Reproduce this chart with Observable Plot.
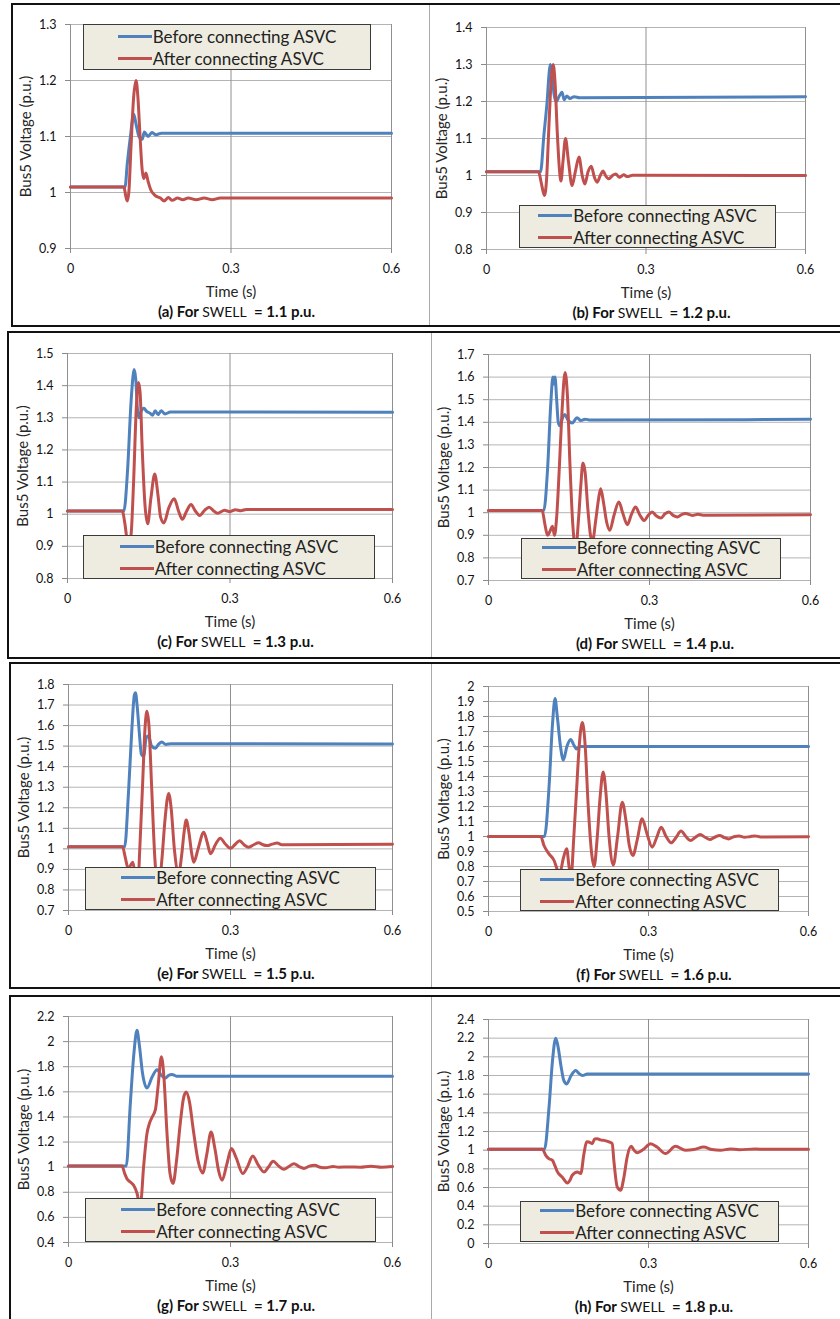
<!DOCTYPE html>
<html>
<head>
<meta charset="utf-8">
<script src="https://cdn.jsdelivr.net/npm/d3@7"></script>
<script src="https://cdn.jsdelivr.net/npm/@observablehq/plot@0.6"></script>
<style>
  html, body { margin: 0; padding: 0; background: #fff; }
  #page { position: relative; width: 840px; height: 1319px; overflow: hidden; background: #fff; font-family: Lato, "Open Sans", sans-serif; }
  .rowbox { position: absolute; box-sizing: border-box; border: 2px solid #111; border-right: none; }
  .divider { position: absolute; width: 1px; background: #a9a9a9; }
  .panel { position: absolute; }
  .panel svg { overflow: visible; }
  .legend { position: absolute; box-sizing: border-box; background: #EEECE1; border: 1px solid #3a3a3a; display: flex; flex-direction: column; justify-content: center; align-items: center; }
  .legend .items { display: flex; flex-direction: column; }
  .legend .item { display: flex; align-items: center; height: 22px; font-size: 17px; color: #222; white-space: nowrap; }
  .legend .swatch { width: 34px; height: 3px; margin-right: 1px; }
  .caption { position: absolute; transform: translate(-50%, -50%); white-space: nowrap; font-size: 15px; font-weight: 700; color: #111; }
  .caption .sw { font-weight: 400; font-size: 14px; }
</style>
</head>
<body>
<div id="page"></div>
<script>
// ---------- data ----------
const seriesNames = ["Before connecting ASVC", "After connecting ASVC"];
const captionLetters = ["a", "b", "c", "d", "e", "f", "g", "h"];
const swellLevels = ["1.1", "1.2", "1.3", "1.4", "1.5", "1.6", "1.7", "1.8"];
const xTicks = [0, 0.3, 0.6];

const ticksA = [0.9, 1, 1.1, 1.2, 1.3];
const ticksB = [0.8, 0.9, 1, 1.1, 1.2, 1.3, 1.4];
const ticksC = [0.8, 0.9, 1, 1.1, 1.2, 1.3, 1.4, 1.5];
const ticksD = [0.7, 0.8, 0.9, 1, 1.1, 1.2, 1.3, 1.4, 1.5, 1.6, 1.7];
const ticksE = [0.7, 0.8, 0.9, 1, 1.1, 1.2, 1.3, 1.4, 1.5, 1.6, 1.7, 1.8];
const ticksF = [0.5, 0.6, 0.7, 0.8, 0.9, 1, 1.1, 1.2, 1.3, 1.4, 1.5, 1.6, 1.7, 1.8, 1.9, 2];
const ticksG = [0.4, 0.6, 0.8, 1, 1.2, 1.4, 1.6, 1.8, 2, 2.2];
const ticksH = [0, 0.2, 0.4, 0.6, 0.8, 1, 1.2, 1.4, 1.6, 1.8, 2, 2.2, 2.4];

// [time (s), voltage (p.u.)]
const beforeA = [[0,1.01],[0.102,1.01],[0.106,1.05],[0.112,1.1],[0.118,1.14],[0.123,1.12],[0.128,1.1],[0.134,1.095],[0.138,1.108],[0.145,1.1],[0.152,1.107],[0.16,1.103],[0.17,1.106],[0.6,1.106]];
const afterA = [[0,1.01],[0.1,1.01],[0.103,0.995],[0.106,0.985],[0.109,1.0],[0.113,1.08],[0.118,1.17],[0.1225,1.2],[0.126,1.17],[0.13,1.1],[0.134,1.04],[0.137,1.025],[0.141,1.035],[0.145,1.02],[0.15,1.005],[0.158,0.995],[0.168,0.99],[0.175,0.985],[0.183,0.991],[0.19,0.986],[0.2,0.99],[0.21,0.987],[0.22,0.99],[0.235,0.987],[0.25,0.99],[0.265,0.987],[0.28,0.99],[0.6,0.99]];

const beforeB = [[0,1.01],[0.1016,1.01],[0.108,1.11],[0.114,1.2],[0.118,1.28],[0.12,1.3],[0.123,1.28],[0.127,1.22],[0.131,1.2],[0.137,1.215],[0.142,1.225],[0.146,1.205],[0.151,1.215],[0.157,1.208],[0.165,1.213],[0.175,1.21],[0.6,1.213]];
const afterB = [[0,1.01],[0.098,1.01],[0.103,0.98],[0.109,0.946],[0.113,0.99],[0.117,1.12],[0.121,1.24],[0.1254,1.3],[0.129,1.25],[0.133,1.12],[0.137,1.02],[0.14,0.985],[0.144,1.04],[0.1486,1.1],[0.154,1.04],[0.161,0.973],[0.167,1.01],[0.174,1.05],[0.18,1.0],[0.185,0.977],[0.191,1.01],[0.197,1.025],[0.203,0.995],[0.208,0.982],[0.214,1.0],[0.219,1.012],[0.225,0.997],[0.23,0.991],[0.237,1.0],[0.243,1.004],[0.25,0.995],[0.258,1.002],[0.265,0.997],[0.275,1.001],[0.6,1.0]];

const beforeC = [[0,1.01],[0.104,1.01],[0.111,1.14],[0.117,1.34],[0.121,1.43],[0.123,1.45],[0.126,1.42],[0.129,1.33],[0.132,1.3],[0.136,1.32],[0.141,1.33],[0.146,1.32],[0.152,1.315],[0.157,1.308],[0.162,1.322],[0.167,1.31],[0.173,1.322],[0.18,1.312],[0.19,1.318],[0.6,1.317]];
const afterC = [[0,1.01],[0.101,1.01],[0.106,0.97],[0.11,0.92],[0.114,0.9],[0.118,0.95],[0.122,1.1],[0.127,1.33],[0.131,1.41],[0.134,1.38],[0.138,1.2],[0.143,1.03],[0.148,0.97],[0.154,1.05],[0.161,1.125],[0.167,1.06],[0.172,0.99],[0.178,0.973],[0.187,1.02],[0.197,1.048],[0.205,1.01],[0.212,0.984],[0.22,1.01],[0.228,1.03],[0.236,1.01],[0.244,0.996],[0.253,1.012],[0.2615,1.022],[0.27,1.01],[0.277,1.003],[0.29,1.012],[0.3,1.008],[0.31,1.014],[0.32,1.011],[0.33,1.015],[0.6,1.015]];

const beforeD = [[0,1.01],[0.103,1.01],[0.11,1.19],[0.116,1.48],[0.12,1.6],[0.122,1.57],[0.124,1.6],[0.127,1.5],[0.13,1.4],[0.133,1.385],[0.138,1.42],[0.142,1.435],[0.148,1.41],[0.156,1.397],[0.165,1.42],[0.172,1.408],[0.18,1.414],[0.19,1.41],[0.6,1.413]];
const afterD = [[0,1.01],[0.1,1.01],[0.105,0.95],[0.11,0.9],[0.115,0.92],[0.119,0.94],[0.123,0.9],[0.127,0.98],[0.132,1.2],[0.137,1.45],[0.1427,1.62],[0.147,1.52],[0.152,1.2],[0.157,0.95],[0.1625,0.84],[0.168,0.98],[0.172,1.12],[0.176,1.22],[0.18,1.18],[0.185,1.02],[0.19,0.9],[0.1935,0.87],[0.2,0.97],[0.205,1.06],[0.209,1.106],[0.214,1.05],[0.22,0.96],[0.226,0.922],[0.234,0.99],[0.243,1.047],[0.25,1.0],[0.2587,0.947],[0.266,0.99],[0.274,1.025],[0.282,0.99],[0.29,0.966],[0.298,0.99],[0.305,1.003],[0.313,0.985],[0.321,0.976],[0.329,0.995],[0.336,1.003],[0.344,0.988],[0.352,0.981],[0.36,0.992],[0.367,0.997],[0.38,0.988],[0.39,0.993],[0.4,0.989],[0.6,0.991]];

const beforeE = [[0,1.01],[0.104,1.01],[0.111,1.27],[0.1175,1.59],[0.122,1.75],[0.124,1.76],[0.127,1.7],[0.131,1.57],[0.135,1.46],[0.139,1.45],[0.144,1.54],[0.148,1.55],[0.154,1.5],[0.161,1.49],[0.167,1.51],[0.173,1.52],[0.18,1.508],[0.19,1.512],[0.6,1.51]];
const afterE = [[0,1.01],[0.1,1.01],[0.105,0.96],[0.111,0.9],[0.115,0.92],[0.119,0.935],[0.123,0.88],[0.128,0.8],[0.132,1.0],[0.137,1.3],[0.142,1.6],[0.1453,1.67],[0.149,1.6],[0.154,1.3],[0.16,0.95],[0.167,0.8],[0.173,0.95],[0.179,1.15],[0.1855,1.27],[0.19,1.2],[0.196,1.0],[0.204,0.88],[0.21,0.98],[0.214,1.08],[0.218,1.14],[0.223,1.08],[0.228,0.98],[0.232,0.935],[0.24,1.0],[0.2505,1.081],[0.257,1.03],[0.263,0.976],[0.272,1.02],[0.281,1.052],[0.29,1.025],[0.3,1.003],[0.308,1.02],[0.317,1.04],[0.325,1.02],[0.334,1.008],[0.343,1.02],[0.352,1.03],[0.36,1.02],[0.368,1.016],[0.377,1.023],[0.3865,1.028],[0.395,1.02],[0.6,1.022]];

const beforeF = [[0,1.0],[0.105,1.0],[0.1135,1.33],[0.12,1.75],[0.1248,1.92],[0.129,1.8],[0.135,1.6],[0.1404,1.51],[0.147,1.6],[0.154,1.647],[0.16,1.61],[0.165,1.584],[0.172,1.6],[0.6,1.6]];
const afterF = [[0,1.0],[0.098,1.0],[0.104,0.94],[0.1135,0.884],[0.123,0.84],[0.129,0.78],[0.134,0.76],[0.14,0.85],[0.1466,0.918],[0.151,0.8],[0.155,0.74],[0.16,1.0],[0.165,1.3],[0.17,1.6],[0.176,1.76],[0.181,1.62],[0.187,1.2],[0.193,0.9],[0.198,0.8],[0.204,1.0],[0.209,1.25],[0.215,1.43],[0.22,1.3],[0.226,1.0],[0.234,0.81],[0.242,1.0],[0.2508,1.229],[0.258,1.1],[0.264,0.94],[0.2707,0.873],[0.279,0.98],[0.288,1.118],[0.297,1.02],[0.307,0.929],[0.315,0.99],[0.3238,1.062],[0.333,1.0],[0.3425,0.958],[0.351,0.99],[0.361,1.036],[0.37,1.0],[0.3787,0.973],[0.388,0.995],[0.397,1.013],[0.406,0.995],[0.415,0.98],[0.424,0.995],[0.4335,1.007],[0.442,0.993],[0.45,0.984],[0.46,0.998],[0.47,1.003],[0.48,0.995],[0.49,0.999],[0.5,1.004],[0.51,0.997],[0.6,0.998]];

const beforeG = [[0,1.01],[0.107,1.01],[0.1144,1.5],[0.121,1.9],[0.1268,2.09],[0.131,1.98],[0.137,1.75],[0.1453,1.63],[0.155,1.72],[0.164,1.776],[0.172,1.73],[0.1793,1.71],[0.185,1.73],[0.1917,1.739],[0.2,1.725],[0.6,1.725]];
const afterG = [[0,1.01],[0.099,1.01],[0.104,0.95],[0.108,0.91],[0.115,0.88],[0.1206,0.856],[0.127,0.79],[0.131,0.72],[0.134,0.73],[0.139,1.0],[0.1453,1.267],[0.15,1.35],[0.155,1.4],[0.161,1.46],[0.166,1.65],[0.172,1.88],[0.177,1.7],[0.182,1.3],[0.188,0.95],[0.1936,0.87],[0.2,1.05],[0.207,1.35],[0.213,1.55],[0.218,1.598],[0.224,1.52],[0.231,1.3],[0.24,1.05],[0.2486,0.954],[0.256,1.1],[0.264,1.28],[0.271,1.15],[0.278,0.97],[0.2845,0.896],[0.293,1.02],[0.3018,1.148],[0.31,1.08],[0.3228,0.949],[0.331,1.0],[0.3414,1.089],[0.351,1.02],[0.362,0.962],[0.37,1.0],[0.379,1.047],[0.389,1.01],[0.399,0.983],[0.408,1.005],[0.4175,1.028],[0.427,1.005],[0.436,0.99],[0.446,1.008],[0.456,1.015],[0.466,1.0],[0.476,0.995],[0.49,1.005],[0.5,1.0],[0.52,1.002],[0.54,1.0],[0.56,1.008],[0.58,1.0],[0.6,1.005]];

const beforeH = [[0,1.01],[0.105,1.01],[0.1135,1.46],[0.12,1.96],[0.126,2.2],[0.13,2.12],[0.136,1.9],[0.141,1.75],[0.1466,1.71],[0.155,1.8],[0.1634,1.854],[0.17,1.82],[0.176,1.8],[0.185,1.815],[0.6,1.815]];
const afterH = [[0,1.01],[0.101,1.01],[0.1073,0.945],[0.113,0.91],[0.12,0.891],[0.124,0.84],[0.129,0.77],[0.138,0.713],[0.148,0.649],[0.153,0.68],[0.157,0.731],[0.1666,0.767],[0.173,0.749],[0.179,0.963],[0.184,1.09],[0.188,1.088],[0.1946,1.07],[0.199,1.12],[0.204,1.123],[0.21,1.11],[0.2165,1.105],[0.2258,1.09],[0.232,1.07],[0.235,0.891],[0.2414,0.606],[0.2477,0.571],[0.254,0.713],[0.26,0.927],[0.2676,1.041],[0.273,1.0],[0.279,0.973],[0.29,1.006],[0.304,1.07],[0.316,1.034],[0.332,0.963],[0.3506,1.041],[0.3693,0.999],[0.385,1.006],[0.4036,1.034],[0.419,1.006],[0.435,0.999],[0.4535,1.013],[0.47,1.005],[0.5,1.012],[0.52,1.01],[0.6,1.01]];

// ---------- layout (page pixel geometry) ----------
const colors = ["#4F81BD", "#C0504D"];
const rows = [
  {left: 11, top: 3, height: 324, divX: 429},
  {left: 7, top: 331, height: 328, divX: 431},
  {left: 9, top: 662, height: 327, divX: 431},
  {left: 9, top: 995, height: 340, divX: 431}
];
const panels = [
  {before: beforeA, after: afterA, ticks: ticksA, frame: [70, 391, 24, 248], legend: [83, 24, 371, 70]},
  {before: beforeB, after: afterB, ticks: ticksB, frame: [486, 805, 27, 249], legend: [519, 205, 776, 248]},
  {before: beforeC, after: afterC, ticks: ticksC, frame: [67, 392, 353, 578], legend: [83, 535, 375, 579]},
  {before: beforeD, after: afterD, ticks: ticksD, frame: [488, 810, 354, 580], legend: [521, 538, 781, 579]},
  {before: beforeE, after: afterE, ticks: ticksE, frame: [68, 392, 684, 910], legend: [85, 867, 376, 910]},
  {before: beforeF, after: afterF, ticks: ticksF, frame: [488, 808, 686, 911], legend: [520, 869, 779, 911]},
  {before: beforeG, after: afterG, ticks: ticksG, frame: [68, 392, 1016, 1242], legend: [85, 1198, 376, 1242]},
  {before: beforeH, after: afterH, ticks: ticksH, frame: [488, 808, 1019, 1243], legend: [520, 1201, 779, 1242]}
];

const page = document.getElementById("page");
const fmt = d => String(+d.toFixed(1));

rows.forEach(r => {
  const box = document.createElement("div");
  box.className = "rowbox";
  Object.assign(box.style, {left: r.left + "px", top: r.top + "px", width: (860 - r.left) + "px", height: r.height + "px"});
  page.appendChild(box);
  const dv = document.createElement("div");
  dv.className = "divider";
  Object.assign(dv.style, {left: r.divX + "px", top: (r.top + 2) + "px", height: (r.height - 4) + "px"});
  page.appendChild(dv);
});

const ml = 72, mr = 12, mt = 12, mb = 56;

panels.forEach((p, i) => {
  const [L, R, T, B] = p.frame;
  const width = (R - L) + ml + mr;
  const height = (B - T) + mt + mb;
  const ticks = p.ticks;
  const chart = Plot.plot({
    width, height,
    marginLeft: ml, marginRight: mr, marginTop: mt, marginBottom: mb,
    style: {fontFamily: "Lato, 'Open Sans', sans-serif", fontSize: "12px", color: "#111", background: "transparent", overflow: "visible"},
    x: {domain: [0, 0.6]},
    y: {domain: [ticks[0], ticks[ticks.length - 1]]},
    marks: [
      Plot.gridY(ticks, {stroke: "#b4b4b4", strokeOpacity: 1}),
      Plot.gridX(xTicks, {stroke: "#909090", strokeOpacity: 1}),
      Plot.axisY({ticks, tickFormat: fmt, tickSize: 5, tickPadding: 9, stroke: "#8a8a8a", fill: "#111", fontSize: 12.5, label: null}),
      Plot.axisX({ticks: xTicks, tickFormat: fmt, tickSize: 5, tickPadding: 11, stroke: "#8a8a8a", fill: "#111", fontSize: 12.5, label: null}),
      Plot.line(p.before, {x: d => d[0], y: d => d[1], stroke: colors[0], strokeWidth: 3, curve: "monotone-x"}),
      Plot.line(p.after, {x: d => d[0], y: d => d[1], stroke: colors[1], strokeWidth: 3, curve: "monotone-x"}),
      Plot.text(["Bus5 Voltage (p.u.)"], {frameAnchor: "left", textAnchor: "middle", lineAnchor: "middle", rotate: -90, dx: -44, fontSize: 15, fill: "#262626"}),
      Plot.text(["Time (s)"], {frameAnchor: "bottom", textAnchor: "middle", lineAnchor: "middle", dy: 44, fontSize: 15, fill: "#262626"})
    ]
  });
  const holder = document.createElement("div");
  holder.className = "panel";
  Object.assign(holder.style, {left: (L - ml) + "px", top: (T - mt) + "px", width: width + "px", height: height + "px"});
  holder.appendChild(chart);
  page.appendChild(holder);

  // legend
  const [lx0, ly0, lx1, ly1] = p.legend;
  const lg = document.createElement("div");
  lg.className = "legend";
  Object.assign(lg.style, {left: lx0 + "px", top: ly0 + "px", width: (lx1 - lx0) + "px", height: (ly1 - ly0) + "px"});
  const items = document.createElement("div");
  items.className = "items";
  seriesNames.forEach((name, k) => {
    const it = document.createElement("div");
    it.className = "item";
    const sw = document.createElement("span");
    sw.className = "swatch";
    sw.style.background = colors[k];
    const tx = document.createElement("span");
    tx.textContent = name;
    it.appendChild(sw);
    it.appendChild(tx);
    items.appendChild(it);
  });
  lg.appendChild(items);
  page.appendChild(lg);

  // caption
  const cap = document.createElement("div");
  cap.className = "caption";
  Object.assign(cap.style, {left: ((L + R) / 2 + 6) + "px", top: (B + 63) + "px"});
  cap.innerHTML = `(${captionLetters[i]}) For <span class="sw">SWELL</span>&nbsp; = ${swellLevels[i]} p.u.`;
  page.appendChild(cap);
});
</script>
</body>
</html>
